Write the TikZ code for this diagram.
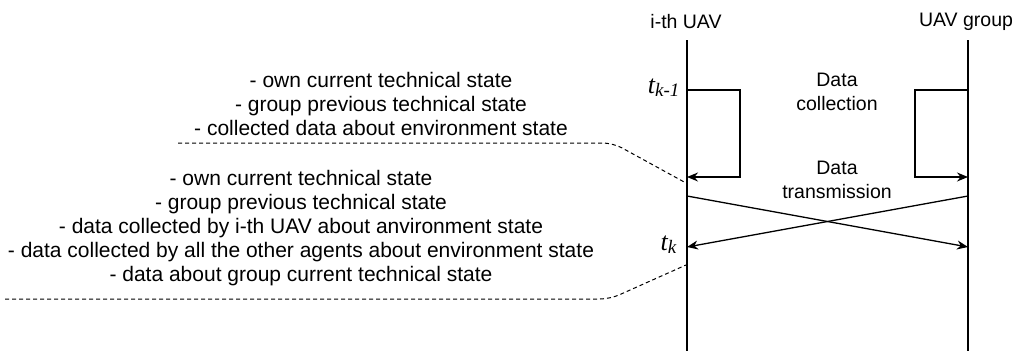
\documentclass[tikz,border=0pt]{standalone}
\usepackage{fontspec}
\setmainfont{Liberation Sans}
\newfontfamily\tfont{Liberation Serif}
\usetikzlibrary{arrows.meta}
\begin{document}
\begin{tikzpicture}[x=1pt,y=-1pt,
  line width=1.3pt,
  >={Stealth[length=11pt,width=9pt]},
  lbl/.style={font=\fontsize{19.5}{24}\selectfont, inner sep=0pt, align=center},
  lst/.style={font=\fontsize{21}{24}\selectfont, inner sep=0pt, align=center},
  tlbl/.style={font=\tfont\itshape\fontsize{26}{26}\selectfont, inner sep=0pt, anchor=east},
  dashline/.style={line width=1pt, dash pattern=on 4pt off 3pt}]
\useasboundingbox (0,0) rectangle (1019,351);
% lifeline heads
\node[lbl] (uav) at (686,22) {i-th UAV};
\node[lbl] (grp) at (966,22) {UAV group};
% lifelines
\coordinate (aTop) at (687,40);
\coordinate (aBot) at (687,351);
\coordinate (bTop) at (968,40);
\coordinate (bBot) at (968,351);
\draw (aTop) -- (aBot);
\draw (bTop) -- (bBot);
% time labels
\node[tlbl] (tk1) at (680,88) {t\raisebox{-3pt}{\fontsize{19}{19}\selectfont k-1}};
\node[tlbl] (tk) at (677,245) {t\raisebox{-3pt}{\fontsize{19}{19}\selectfont k}};
% data collection loops
\coordinate (a1) at (687,90);
\coordinate (a2) at (687,177);
\coordinate (b1) at (968,90);
\coordinate (b2) at (968,177);
\draw[->] (a1) -- (740,90) -- (740,177) -- (a2);
\draw[->] (b1) -- (915,90) -- (915,177) -- (b2);
\node[lbl] (dc) at (837,92) {Data\\collection};
% data transmission
\coordinate (a3) at (687,196);
\coordinate (a4) at (687,247);
\coordinate (b3) at (968,196);
\coordinate (b4) at (968,247);
\draw[->] (a3) -- (b4);
\draw[->] (b3) -- (a4);
\node[lbl] (dt) at (837,180) {Data\\transmission};
% state lists
\node[lst] (s1) at (381,104) {- own current technical state\\- group previous technical state\\- collected data about environment state};
\node[lst] (s2) at (301,228) {- own current technical state\\- group previous technical state\\- data collected by i-th UAV about anvironment state\\- data collected by all the other agents about environment state\\- data about group current technical state};
% dashed pointers
\coordinate (d1) at (178,143);
\coordinate (d2) at (686,183);
\coordinate (d3) at (5,299);
\coordinate (d4) at (686,265);
\draw[dashline, rounded corners=10pt] (d1) -- (613,143) -- (d2);
\draw[dashline, rounded corners=10pt] (d3) -- (610,299) -- (d4);
\end{tikzpicture}
\end{document}
